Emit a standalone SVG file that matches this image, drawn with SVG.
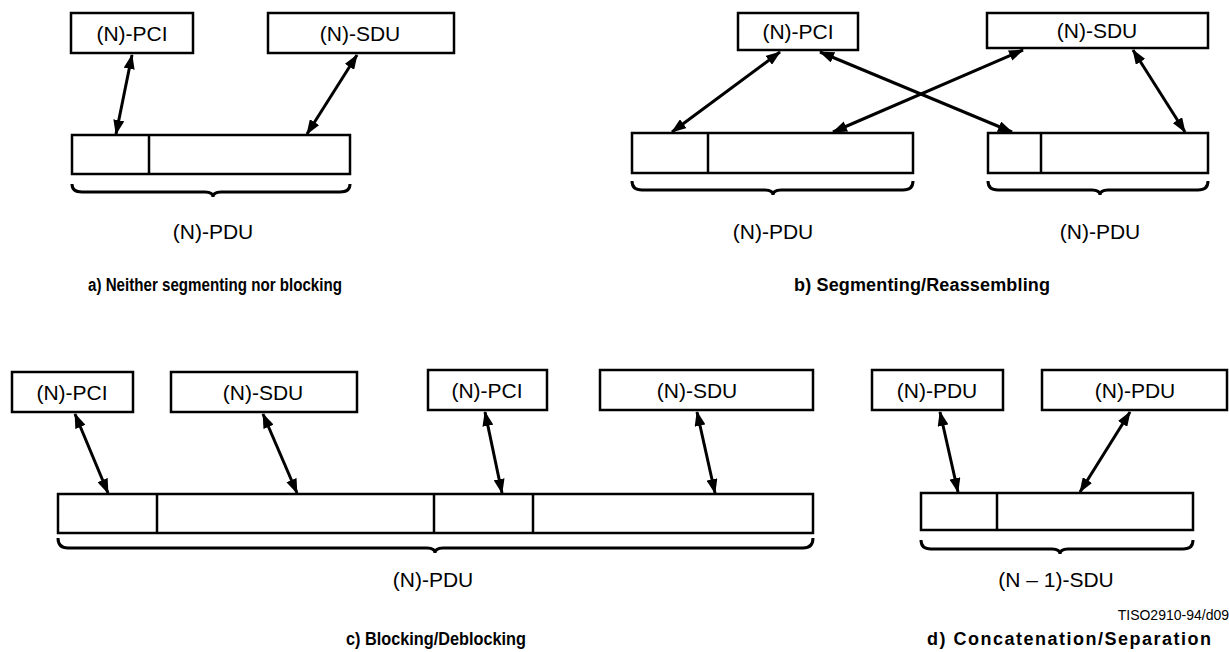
<svg xmlns="http://www.w3.org/2000/svg" width="1229" height="652" viewBox="0 0 1229 652">
<defs>
<style>
.box{fill:#fff;stroke:#000;stroke-width:2.5}
.div{stroke:#000;stroke-width:2.5}
.brace{fill:none;stroke:#000;stroke-width:3}
.lbl{font-family:"Liberation Sans",Arial,sans-serif;font-size:21px;fill:#000;text-anchor:middle}
.cap{font-family:"Liberation Sans",Arial,sans-serif;font-size:18px;font-weight:bold;fill:#000;text-anchor:middle}
.ref{font-family:"Liberation Sans",Arial,sans-serif;font-size:14px;fill:#000;text-anchor:end}
.arr{stroke:#000;stroke-width:3;fill:none;marker-start:url(#ah);marker-end:url(#ah)}
</style>
<marker id="ah" viewBox="0 0 15 11" refX="14" refY="5.5" markerWidth="15" markerHeight="11" markerUnits="userSpaceOnUse" orient="auto-start-reverse">
<path d="M0,0 L15,5.5 L0,11 z" fill="#000"/>
</marker>
</defs>
<rect width="1229" height="652" fill="#fff"/>

<!-- Panel a -->
<g id="a-pci"><rect class="box" x="71" y="13" width="122" height="40"/><text class="lbl" x="132" y="41">(N)-PCI</text></g>
<g id="a-sdu"><rect class="box" x="268" y="13" width="186" height="40"/><text class="lbl" x="360" y="41">(N)-SDU</text></g>
<g id="a-pdu"><rect class="box" x="72" y="135" width="278" height="39"/><line class="div" x1="149" y1="135" x2="149" y2="174"/></g>
<path class="brace" d="M72 184 Q72 192 82 192 L205 192 Q213 192 213 197 Q213 192 221 192 L340 192 Q350 192 350 184"/>
<text class="lbl" x="213" y="239">(N)-PDU</text>
<text class="cap" x="215" y="291" textLength="254" lengthAdjust="spacingAndGlyphs">a) Neither segmenting nor blocking</text>

<!-- Panel b -->
<g id="b-pci"><rect class="box" x="738" y="13" width="120" height="37"/><text class="lbl" x="798" y="39">(N)-PCI</text></g>
<g id="b-sdu"><rect class="box" x="987" y="13" width="221" height="35"/><text class="lbl" x="1097" y="38">(N)-SDU</text></g>
<g id="b-pdu1"><rect class="box" x="632" y="133" width="281" height="40"/><line class="div" x1="708" y1="133" x2="708" y2="173"/></g>
<g id="b-pdu2"><rect class="box" x="988" y="133" width="220" height="40"/><line class="div" x1="1041" y1="133" x2="1041" y2="173"/></g>
<path class="brace" d="M632 181 Q632 190 642 190 L765 190 Q773 190 773 195 Q773 190 781 190 L903 190 Q913 190 913 181"/>
<path class="brace" d="M988 181 Q988 190 998 190 L1092 190 Q1100 190 1100 195 Q1100 190 1108 190 L1198 190 Q1208 190 1208 181"/>
<text class="lbl" x="773" y="239">(N)-PDU</text>
<text class="lbl" x="1100" y="239">(N)-PDU</text>
<text class="cap" x="922" y="291" textLength="256" lengthAdjust="spacing">b) Segmenting/Reassembling</text>

<!-- Panel c -->
<g id="c-pci1"><rect class="box" x="12" y="372" width="121" height="40"/><text class="lbl" x="72" y="400">(N)-PCI</text></g>
<g id="c-sdu1"><rect class="box" x="171" y="372" width="186" height="40"/><text class="lbl" x="263" y="400">(N)-SDU</text></g>
<g id="c-pci2"><rect class="box" x="428" y="370" width="119" height="40"/><text class="lbl" x="487" y="398">(N)-PCI</text></g>
<g id="c-sdu2"><rect class="box" x="600" y="370" width="213" height="40"/><text class="lbl" x="697" y="398">(N)-SDU</text></g>
<g id="c-pdu"><rect class="box" x="58" y="494" width="755" height="39"/><line class="div" x1="157" y1="494" x2="157" y2="533"/><line class="div" x1="434" y1="494" x2="434" y2="533"/><line class="div" x1="533" y1="494" x2="533" y2="533"/></g>
<path class="brace" d="M58 538 Q58 548 68 548 L427 548 Q435 548 435 553 Q435 548 443 548 L803 548 Q813 548 813 538"/>
<text class="lbl" x="433" y="587">(N)-PDU</text>
<text class="cap" x="436" y="645" textLength="180" lengthAdjust="spacingAndGlyphs">c) Blocking/Deblocking</text>

<!-- Panel d -->
<g id="d-pdu1"><rect class="box" x="872" y="370" width="131" height="40"/><text class="lbl" x="937" y="398">(N)-PDU</text></g>
<g id="d-pdu2"><rect class="box" x="1042" y="370" width="185" height="40"/><text class="lbl" x="1135" y="398">(N)-PDU</text></g>
<g id="d-sdu"><rect class="box" x="921" y="493" width="272" height="37"/><line class="div" x1="997" y1="493" x2="997" y2="530"/></g>
<path class="brace" d="M921 540 Q921 549 931 549 L1052 549 Q1060 549 1060 554 Q1060 549 1068 549 L1183 549 Q1193 549 1193 540"/>
<text class="lbl" x="1056" y="587">(N – 1)-SDU</text>
<text class="ref" x="1229" y="620">TISO2910-94/d09</text>
<text class="cap" x="1069" y="645" textLength="284" lengthAdjust="spacing">d) Concatenation/Separation</text>

<g id="connectors">
<line class="arr" x1="132" y1="55" x2="116" y2="134"/>
<line class="arr" x1="357" y1="55" x2="307" y2="134"/>
<line class="arr" x1="780" y1="52" x2="672" y2="132"/>
<line class="arr" x1="820" y1="52" x2="1012" y2="132"/>
<line class="arr" x1="1023" y1="50" x2="833" y2="132"/>
<line class="arr" x1="1133" y1="50" x2="1185" y2="132"/>
<line class="arr" x1="75" y1="414" x2="108" y2="493"/>
<line class="arr" x1="263" y1="414" x2="297" y2="493"/>
<line class="arr" x1="485" y1="412" x2="502" y2="493"/>
<line class="arr" x1="697" y1="412" x2="715" y2="493"/>
<line class="arr" x1="940" y1="412" x2="958" y2="492"/>
<line class="arr" x1="1130" y1="412" x2="1080" y2="492"/>
</g>
</svg>
